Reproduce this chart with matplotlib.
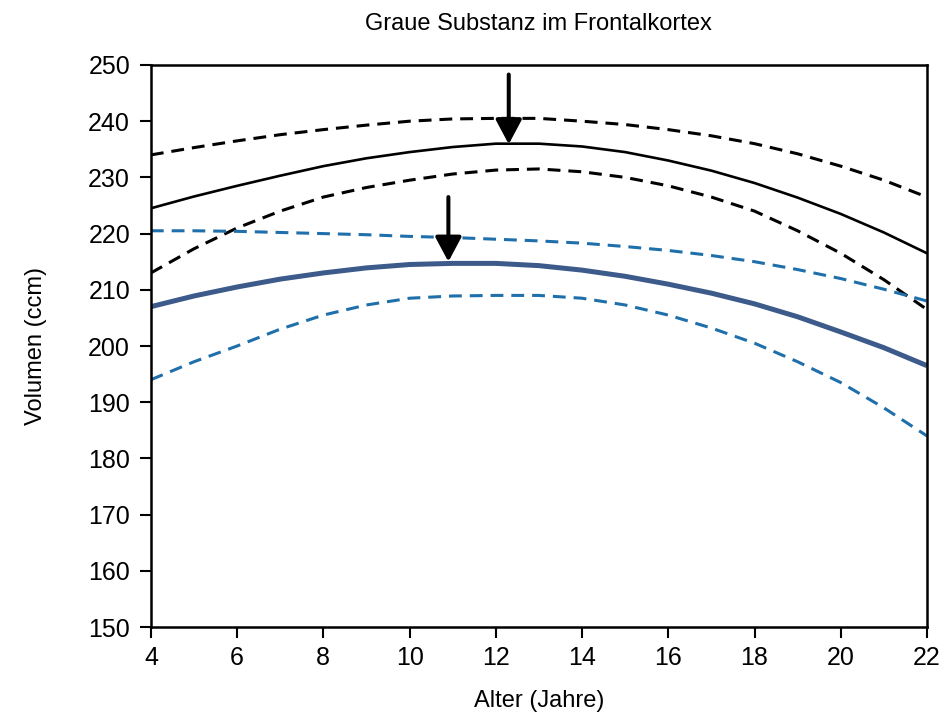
import matplotlib
matplotlib.use("Agg")
import matplotlib.pyplot as plt
import numpy as np

plt.rcParams['font.family'] = ['Liberation Sans', 'DejaVu Sans']

ages = list(range(4, 23))
black_mean = [224.5, 226.6, 228.5, 230.3, 232.0, 233.4, 234.5, 235.4, 236.0, 236.0,
              235.5, 234.5, 233.0, 231.2, 229.0, 226.4, 223.5, 220.2, 216.5]
black_upper = [234.0, 235.3, 236.5, 237.6, 238.5, 239.3, 240.0, 240.4, 240.5, 240.5,
               240.0, 239.4, 238.5, 237.4, 236.0, 234.2, 232.0, 229.5, 226.5]
black_lower = [213.0, 217.3, 221.0, 224.0, 226.5, 228.2, 229.5, 230.6, 231.3, 231.5,
               231.0, 230.0, 228.5, 226.5, 224.0, 220.5, 216.5, 211.8, 206.5]
blue_upper = [220.5, 220.5, 220.4, 220.2, 220.0, 219.8, 219.5, 219.3, 219.0, 218.7,
              218.3, 217.7, 217.0, 216.1, 215.0, 213.6, 212.0, 210.1, 208.0]
blue_mean = [207.0, 208.9, 210.5, 211.9, 213.0, 213.9, 214.5, 214.7, 214.7, 214.3,
             213.5, 212.4, 211.0, 209.4, 207.5, 205.2, 202.5, 199.7, 196.5]
blue_lower = [194.0, 197.2, 200.0, 203.0, 205.5, 207.3, 208.5, 208.9, 209.0, 209.0,
              208.5, 207.3, 205.5, 203.2, 200.5, 197.2, 193.5, 189.0, 184.0]

# arrows: (x, y_start, y_end)
arrow_black = (12.3, 248.3, 235.9)
arrow_blue = (10.9, 226.5, 215.0)

xticks = [4, 6, 8, 10, 12, 14, 16, 18, 20, 22]
yticks = [150, 160, 170, 180, 190, 200, 210, 220, 230, 240, 250]

fig = plt.figure(figsize=(9.43, 7.18), dpi=100)
ax = fig.add_axes([0.160, 0.1267, 0.823, 0.7828])

dash = (0, (4.2, 2.6))
ax.plot(ages, black_upper, color='black', lw=2.2, linestyle=dash)
ax.plot(ages, black_lower, color='black', lw=2.2, linestyle=dash)
ax.plot(ages, black_mean, color='black', lw=1.9)
ax.plot(ages, blue_upper, color='#1f6fab', lw=2.2, linestyle=dash)
ax.plot(ages, blue_lower, color='#1f6fab', lw=2.2, linestyle=dash)
ax.plot(ages, blue_mean, color='#3c5a8a', lw=3.6, solid_capstyle='butt')

for (x, y0, y1) in [arrow_black, arrow_blue]:
    ax.annotate('', xy=(x, y1), xytext=(x, y0),
                arrowprops=dict(arrowstyle='-|>,head_length=1.5,head_width=0.8',
                                color='black', lw=2.9, shrinkA=0, shrinkB=0))

ax.set_xlim(4, 22)
ax.set_ylim(150, 250)
ax.set_xticks(xticks)
ax.set_yticks(yticks)
ax.tick_params(axis='both', direction='out', length=8, width=1.5, labelsize=18, color='black')
ax.tick_params(axis='x', pad=6)
ax.tick_params(axis='y', pad=7)
for s in ax.spines.values():
    s.set_linewidth(1.8)
    s.set_color('black')

ax.set_xlabel('Alter (Jahre)', fontsize=17, labelpad=14)
ax.set_ylabel('Volumen (ccm)', fontsize=17, labelpad=30)
ax.set_title('Graue Substanz im Frontalkortex', fontsize=17, pad=25)

fig.savefig('out.png', dpi=100)
